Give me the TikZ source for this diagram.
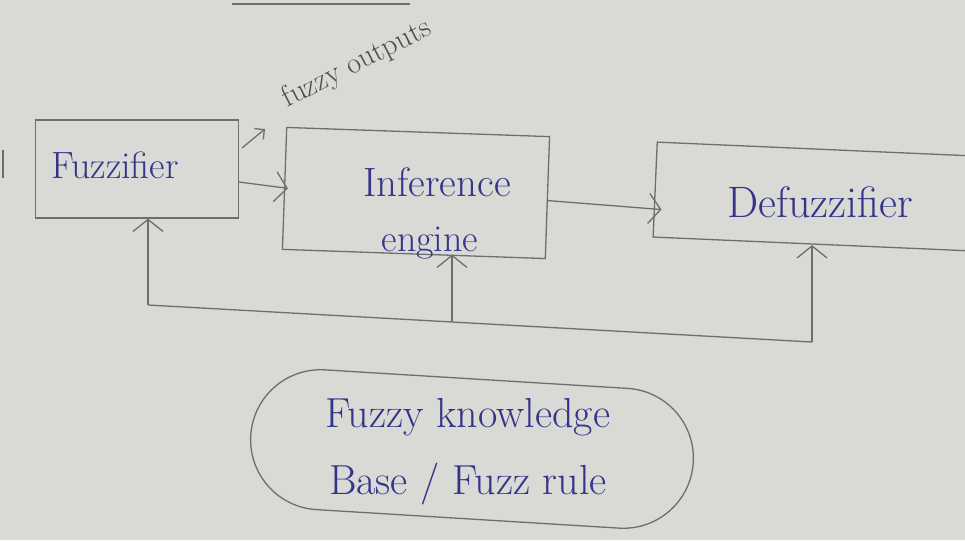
\documentclass[tikz,border=0pt]{standalone}
\usepackage{fontspec}
\usetikzlibrary{arrows.meta,shapes.misc,calc}
\definecolor{paper}{HTML}{D9D9D5}
\definecolor{pencil}{HTML}{6E6E6E}
\definecolor{ink}{HTML}{34348A}
\begin{document}
\begin{tikzpicture}[x=1pt,y=-1pt,
  pencil line/.style={draw=pencil, line width=1.3pt},
  boxnode/.style={pencil line, rectangle, inner sep=0pt},
  arr/.style={pencil line, -{Straight Barb[length=12pt,width=30pt]}},
  smallarr/.style={pencil line, -{Straight Barb[length=7pt,width=14pt]}},
  inktext/.style={text=ink, font=\fontsize{38}{67}\selectfont, inner sep=0pt},
  notetext/.style={text=pencil!70!black, font=\fontsize{30}{32}\selectfont\addfontfeatures{LetterSpace=12}, inner sep=0pt}]
\fill[paper] (0,0) rectangle (965,540);
\useasboundingbox (0,0) rectangle (965,540);
\clip (0,0) rectangle (965,540);

% stray pencil marks
\draw[pencil line] (232,4) -- (410,4);
\draw[pencil line] (3,150) -- (3,178);

% boxes
\node[boxnode, minimum width=203pt, minimum height=98pt] (fuzz) at (137,169) {};
\node[inktext] (fuzzlbl) at (115,165) {Fuzzifier};

\node[boxnode, minimum width=263pt, minimum height=122pt, rotate=-2] (inf) at (416,193) {};
\node[inktext, font=\fontsize{41}{45}\selectfont] (inflbl) at (437,182) {Inference};
\node[inktext] (englbl) at (430,243) {engine};

\node[boxnode, minimum width=340pt, minimum height=95pt, rotate=-2.5] (defuzz) at (825,197) {};
\node[inktext, font=\fontsize{44}{48}\selectfont] (deflbl) at (820,202) {Defuzzifier};

\node[pencil line, rounded rectangle, minimum width=450pt, minimum height=140pt, rotate=-3.5] (kb) at (472,449) {};
\node[inktext, align=center, font=\fontsize{42}{67}\selectfont] (kblbl) at (468,452) {Fuzzy knowledge\\Base / Fuzz rule};

% annotation
\node[notetext, rotate=27] (outlbl) at (357,64) {fuzzy outputs};
\coordinate (o1) at (242,148);
\coordinate (o2) at (265,129);
\draw[smallarr] (o1) -- (o2);

% forward connectors
\draw[arr] ([yshift=-13pt]fuzz.east) -- ([xshift=4pt]inf.west);
\draw[arr] ([yshift=-3pt]inf.east) -- ([xshift=7pt,yshift=-20pt]defuzz.west);

% feedback loop
\coordinate (fb1) at (148,305);
\coordinate (fb2) at (452,322);
\coordinate (fb3) at (812,342);
\draw[pencil line] (fb1) -- (fb2) -- (fb3);
\draw[arr] (fb1) -- (fb1 |- fuzz.south);
\draw[arr] (fb2) -- (fb2 |- inf.south);
\draw[arr] (fb3) -- (fb3 |- defuzz.south);
\end{tikzpicture}
\end{document}
